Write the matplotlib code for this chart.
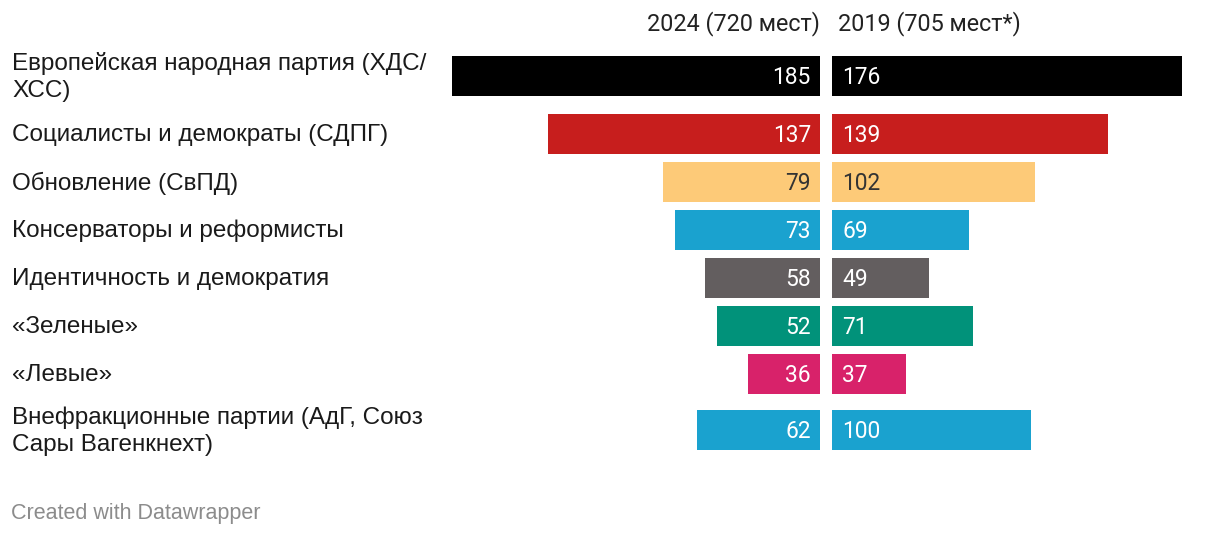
import matplotlib

matplotlib.use("Agg")
import matplotlib.pyplot as plt

# data
parties = [
    "Европейская народная партия (ХДС/\nХСС)",
    "Социалисты и демократы (СДПГ)",
    "Обновление (СвПД)",
    "Консерваторы и реформисты",
    "Идентичность и демократия",
    "«Зеленые»",
    "«Левые»",
    "Внефракционные партии (АдГ, Союз\nСары Вагенкнехт)",
]
seats_2024 = [185, 137, 79, 73, 58, 52, 36, 62]
seats_2019 = [176, 139, 102, 69, 49, 71, 37, 100]
header_2024 = "2024 (720 мест)"
header_2019 = "2019 (705 мест*)"
colors = ["#000000", "#c71e1d", "#fdca78", "#1aa2cf", "#635e5f", "#01927a", "#d8226a", "#1aa2cf"]
dark_text = ["#fdca78"]

# layout (pixels)
W, H = 1220, 536
row_y = [76, 134, 182, 230, 278, 326, 374, 430]
bar_h = 40
px_per_seat = 1.989
left_end, right_start = 820, 832
span = 380

plt.rcParams["font.family"] = ["Roboto", "DejaVu Sans"]
label_font = ["Liberation Sans", "DejaVu Sans"]

fig = plt.figure(figsize=(W / 100, H / 100), dpi=100)

ax_l = fig.add_axes([(left_end - span) / W, 0, span / W, 1])
ax_r = fig.add_axes([right_start / W, 0, span / W, 1])
for ax in (ax_l, ax_r):
    ax.set_ylim(H, 0)
    ax.axis("off")
    ax.patch.set_alpha(0)
ax_l.set_xlim(span / px_per_seat, 0)
ax_r.set_xlim(0, span / px_per_seat)

ax_l.barh(row_y, seats_2024, height=bar_h, color=colors)
ax_r.barh(row_y, seats_2019, height=bar_h, color=colors)

# overlay axis for text, in pixel coordinates
bg = fig.add_axes([0, 0, 1, 1])
bg.set_xlim(0, W)
bg.set_ylim(H, 0)
bg.axis("off")
bg.patch.set_alpha(0)

fs_num = 16.4
for y, name, v24, v19, c in zip(row_y, parties, seats_2024, seats_2019, colors):
    bg.text(12, y + 1, name, ha="left", va="center", fontsize=17.5, color="#1a1a1a",
            linespacing=1.27, family=label_font)
    tc = "#333333" if c in dark_text else "white"
    bg.text(left_end - 9, y + 1.5, str(v24), ha="right", va="center", fontsize=fs_num, color=tc)
    bg.text(right_start + 10, y + 1.5, str(v19), ha="left", va="center", fontsize=fs_num, color=tc)

bg.text(left_end, 23.5, header_2024, ha="right", va="center", fontsize=16.8, color="#222222")
bg.text(838, 23.5, header_2019, ha="left", va="center", fontsize=16.8, color="#222222")
bg.text(11, 513, "Created with Datawrapper", ha="left", va="center", fontsize=15.5,
        color="#8c8c8c", family=label_font)

fig.savefig("out.png", dpi=100)
plt.close(fig)
